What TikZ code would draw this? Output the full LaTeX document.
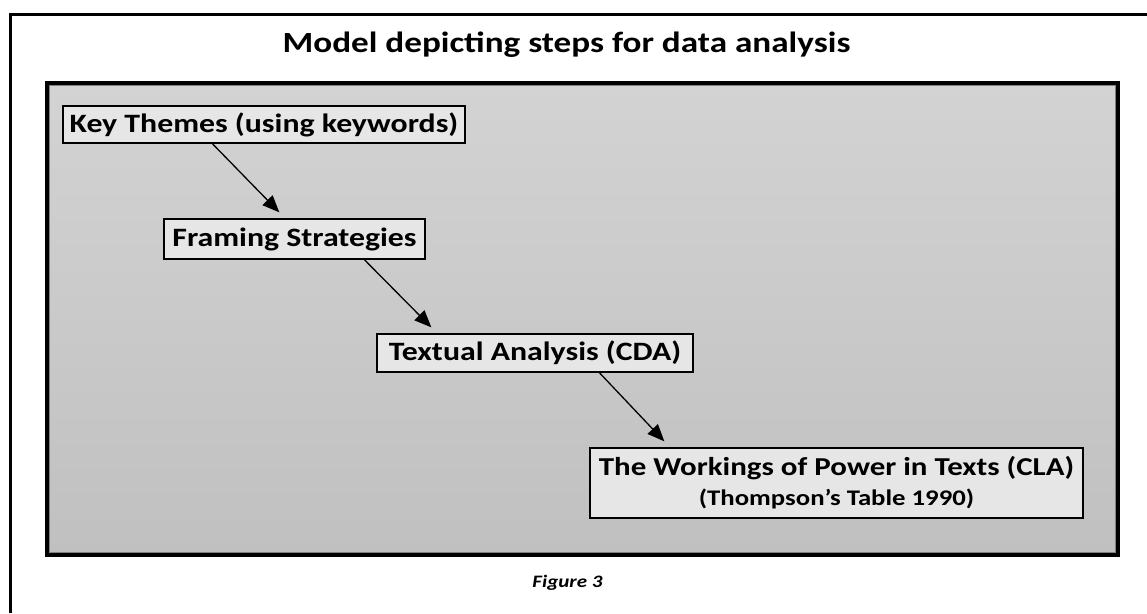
\documentclass[tikz,border=0pt]{standalone}
\usepackage{fontspec}
\setmainfont{Carlito}[FakeStretch=1.2]
\usetikzlibrary{arrows.meta,calc}
\definecolor{boxfill}{HTML}{E6E6E6}
\definecolor{paneltop}{HTML}{D3D3D3}
\definecolor{panelbot}{HTML}{C0C0C0}
\tikzset{
  stepbox/.style={draw=black, line width=1.3pt, fill=boxfill, inner sep=0pt, align=center,
    font=\fontsize{26.5}{31}\selectfont\bfseries},
  flowarrow/.style={line width=1.3pt, -{Triangle[length=17pt,width=14pt]}},
}
\begin{document}
\begin{tikzpicture}[x=1pt,y=-1pt]
\useasboundingbox (0,0) rectangle (1147,613);
\fill[white] (0,0) rectangle (1147,613);
% outer frame
\draw[line width=3pt] (10,613) -- (10,14) -- (1147,14);
% title
\node[font=\fontsize{29.3}{34}\selectfont\bfseries, anchor=base] (title) at (566.5,52) {Model depicting steps for data analysis};
% panel
\shade[top color=paneltop, bottom color=panelbot] (47,83) rectangle (1118,555);
\draw[line width=3.5pt] (47,83) rectangle (1118,555);
\draw[gray, line width=0.8pt] (49.5,85.5) rectangle (1115.5,552.5);
% boxes
\node[stepbox, minimum width=402pt, minimum height=37pt] (key) at (264,124.5) {Key Themes (using keywords)};
\node[stepbox, minimum width=261pt, minimum height=40pt] (fram) at (294.5,239) {Framing Strategies};
\node[stepbox, minimum width=316pt, minimum height=38pt] (text) at (535,353) {Textual Analysis (CDA)};
\node[stepbox, minimum width=493pt, minimum height=70pt] (power) at (836.5,483) {{\fontsize{25.8}{31}\selectfont The Workings of Power in Texts (CLA)}\\[-1pt]{\fontsize{22.3}{27}\selectfont (Thompson’s Table 1990)}};
% arrows
\draw[flowarrow] ([xshift=150pt]key.south west) -- ([xshift=116pt,yshift=6pt]fram.north west);
\draw[flowarrow] ([xshift=201pt]fram.south west) -- ([xshift=55pt,yshift=6pt]text.north west);
\draw[flowarrow] ([xshift=223pt]text.south west) -- ([xshift=75pt,yshift=6pt]power.north west);
% caption
\node[font=\fontsize{17.5}{20}\selectfont\bfseries\itshape, anchor=base] (cap) at (567.5,587) {Figure 3};
\end{tikzpicture}
\end{document}
